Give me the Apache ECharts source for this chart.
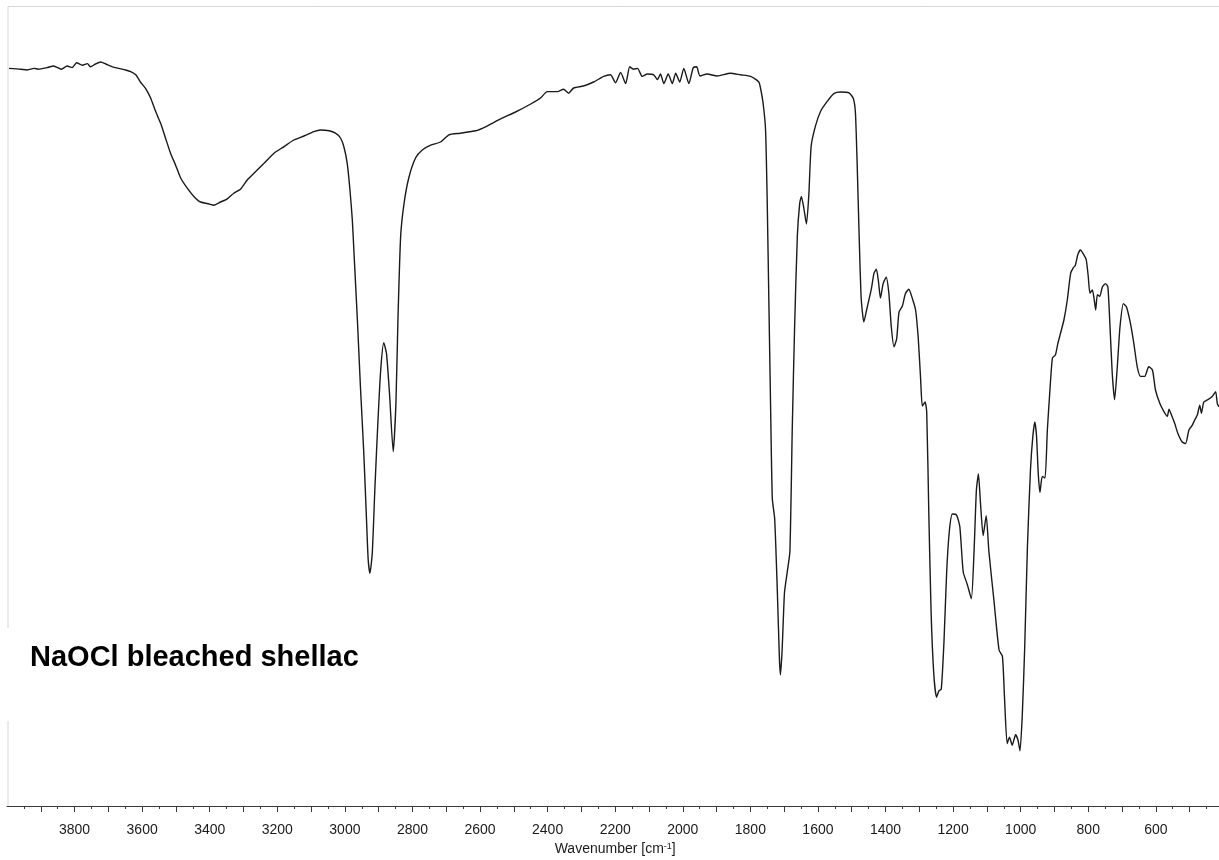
<!DOCTYPE html>
<html>
<head>
<meta charset="utf-8">
<title>NaOCl bleached shellac – FTIR</title>
<script src="https://cdn.jsdelivr.net/npm/echarts@6/dist/echarts.min.js"></script>
<style>
  html, body { margin: 0; padding: 0; background: #fff; overflow: hidden; }
  #chart { width: 1224px; height: 860px; }
</style>
</head>
<body>
<div id="chart"></div>
<script>
// Wavenumber positions (cm-1) of the sampled spectrum
const wavenumbers = [
  3994, 3960, 3940, 3920, 3907, 3881, 3862, 3839, 3822, 3807, 3794, 3777, 3762, 3753, 3738, 3723,
  3708, 3688, 3669, 3649, 3634, 3619, 3605, 3590, 3575, 3560, 3545, 3531, 3516, 3501, 3486, 3466,
  3447, 3427, 3402, 3388, 3368, 3348, 3329, 3309, 3289, 3264, 3240, 3210, 3181, 3151, 3121, 3092,
  3072, 3047, 3028, 3013, 3003, 2993, 2985, 2978, 2973, 2963, 2954, 2944, 2936, 2931, 2926, 2919,
  2911, 2902, 2894, 2885, 2877, 2868, 2857, 2849, 2843, 2835, 2825, 2811, 2791, 2771, 2746, 2717,
  2692, 2658, 2613, 2584, 2539, 2495, 2450, 2421, 2401, 2371, 2353, 2338, 2323, 2294, 2264, 2234,
  2214, 2199, 2184, 2169, 2157, 2146, 2134, 2120, 2105, 2086, 2075, 2066, 2056, 2043, 2031, 2021,
  2009, 1997, 1982, 1969, 1959, 1949, 1928, 1898, 1859, 1829, 1799, 1775, 1770, 1762, 1755, 1750,
  1745, 1740, 1735, 1728, 1720, 1714, 1711, 1706, 1699, 1691, 1683, 1676, 1669, 1661, 1654, 1649,
  1642, 1634, 1627, 1620, 1607, 1592, 1572, 1553, 1533, 1508, 1495, 1489, 1484, 1479, 1472, 1464,
  1456, 1449, 1442, 1434, 1427, 1421, 1415, 1407, 1398, 1390, 1383, 1375, 1367, 1360, 1350, 1341,
  1331, 1321, 1311, 1303, 1296, 1291, 1283, 1278, 1272, 1265, 1257, 1249, 1242, 1235, 1227, 1219,
  1211, 1202, 1190, 1180, 1170, 1158, 1146, 1138, 1131, 1125, 1119, 1111, 1102, 1094, 1079, 1064,
  1054, 1048, 1040, 1033, 1025, 1015, 1008, 1002, 995, 988, 980, 971, 964, 958, 953, 948,
  943, 936, 928, 921, 914, 906, 897, 890, 882, 872, 862, 852, 844, 838, 831, 823,
  813, 806, 800, 795, 788, 783, 778, 773, 766, 758, 749, 742, 736, 729, 722, 714,
  706, 696, 687, 675, 665, 655, 645, 633, 621, 610, 601, 588, 576, 566, 561, 554,
  544, 535, 522, 512, 502, 492, 485, 477, 470, 465, 458, 446, 433, 423, 418, 413
];

// Transmittance (%) at each wavenumber above
const transmittance = [
  92.2, 92.1, 92.0, 92.2, 92.1, 92.3, 92.5, 92.1, 92.5, 92.3, 92.9, 92.6, 92.8, 92.4, 92.75, 93.0,
  92.75, 92.4, 92.2, 92.0, 91.8, 91.4, 90.5, 89.7, 88.5, 86.8, 85.3, 83.5, 81.6, 80.1, 78.5, 77.2,
  76.2, 75.5, 75.25, 75.1, 75.5, 75.9, 76.6, 77.1, 78.25, 79.3, 80.3, 81.6, 82.4, 83.25, 83.75, 84.3,
  84.5, 84.4, 84.1, 83.5, 82.4, 80.3, 77.0, 73.25, 69.1, 60.75, 52.4, 44.1, 35.75, 30.75, 29.1, 31.6,
  39.9, 48.25, 54.5, 57.9, 56.6, 51.6, 44.3, 50.3, 60.75, 71.2, 75.3, 78.5, 81.0, 82.0, 82.6, 83.0,
  83.9, 84.1, 84.4, 84.9, 85.9, 86.75, 87.75, 88.5, 89.3, 89.3, 89.6, 89.1, 89.75, 90.0, 90.5, 91.2,
  91.4, 90.4, 91.7, 90.3, 92.4, 92.1, 92.2, 91.2, 91.5, 91.4, 90.8, 91.5, 90.3, 91.5, 90.3, 91.6,
  90.5, 92.2, 90.3, 92.3, 92.4, 91.25, 91.5, 91.25, 91.6, 91.4, 91.2, 90.5, 89.75, 87.75, 84.5, 75.3,
  62.5, 49.7, 38.4, 35.9, 26.65, 18.45, 16.4, 19.5, 26.65, 29.2, 31.8, 47.1, 59.95, 71.2, 75.3, 76.2,
  74.8, 72.75, 76.35, 82.5, 85.05, 86.85, 88.1, 89.05, 89.25, 89.15, 88.4, 86.6, 80.4, 72.75, 63.5, 60.5,
  62.0, 63.3, 64.6, 66.6, 67.1, 65.6, 63.5, 65.3, 66.1, 64.05, 59.95, 57.4, 58.4, 61.75, 62.5, 64.05,
  64.6, 63.5, 62.0, 58.4, 53.3, 50.0, 50.5, 49.2, 36.9, 24.1, 16.4, 13.6, 14.4, 14.6, 20.5, 29.25,
  34.4, 36.5, 36.4, 34.9, 29.25, 27.7, 25.9, 31.8, 39.5, 41.5, 37.9, 33.8, 36.3, 31.8, 25.65, 19.5,
  18.7, 13.7, 7.8, 8.6, 7.6, 8.9, 8.25, 6.9, 11.6, 19.9, 32.4, 42.0, 46.2, 48.0, 46.2, 41.6,
  39.2, 41.2, 41.0, 47.0, 51.6, 56.0, 56.4, 57.8, 59.1, 60.75, 63.25, 66.6, 67.3, 67.6, 68.9, 69.5,
  68.9, 68.3, 66.2, 64.1, 64.5, 63.5, 62.0, 63.9, 63.7, 64.9, 65.3, 64.9, 60.3, 54.1, 50.8, 54.9,
  59.9, 62.8, 62.4, 60.3, 57.8, 54.9, 53.7, 53.7, 54.9, 54.5, 52.0, 50.3, 49.3, 48.7, 49.6, 48.9,
  47.8, 46.6, 45.5, 45.3, 47.0, 47.6, 48.25, 48.9, 50.1, 49.1, 50.5, 50.8, 51.2, 51.8, 50.3, 49.9
];

// Axis ticks: long ticks every 100 cm-1, labels every 200 cm-1
const majorTicks = [500, 600, 700, 800, 900, 1000, 1100, 1200, 1300, 1400, 1500, 1600, 1700, 1800,
  1900, 2000, 2100, 2200, 2300, 2400, 2500, 2600, 2700, 2800, 2900, 3000, 3100, 3200, 3300, 3400,
  3500, 3600, 3700, 3800, 3900];
const tickLabels = [600, 800, 1000, 1200, 1400, 1600, 1800, 2000, 2200, 2400, 2600, 2800, 3000,
  3200, 3400, 3600, 3800];

const sampleName = 'NaOCl bleached shellac';

const spectrum = wavenumbers.map((w, i) => [w, transmittance[i]]);

const chart = echarts.init(document.getElementById('chart'), null, { renderer: 'canvas' });

// Plot area: the axis line sits a few pixels under the light frame of the trace area
const GRID = { left: 7, right: 0.6, top: 6, bottom: 48 };
const FRAME_GAP = 6;

chart.setOption({
  animation: false,
  backgroundColor: '#ffffff',
  grid: {
    left: GRID.left,
    right: GRID.right,
    top: GRID.top,
    bottom: GRID.bottom,
    containLabel: false,
    outerBoundsMode: 'none',
    show: false
  },
  xAxis: {
    type: 'value',
    inverse: true,
    min: 400,
    max: 4000,
    interval: 100,
    axisLine: { show: true, lineStyle: { color: '#3a3a3a', width: 1.2 } },
    axisTick: {
      show: true,
      length: 6,
      customValues: majorTicks,
      lineStyle: { color: '#3a3a3a', width: 1 }
    },
    minorTick: {
      show: true,
      splitNumber: 2,
      length: 3,
      lineStyle: { color: '#3a3a3a', width: 1 }
    },
    axisLabel: {
      customValues: tickLabels,
      formatter: (v) => String(v),
      margin: 11,
      fontFamily: 'Liberation Sans, Arial, sans-serif',
      fontSize: 14,
      color: '#1a1a1a'
    },
    splitLine: { show: false },
    name: 'Wavenumber [cm{sup|-1}]',
    nameLocation: 'middle',
    nameGap: 26,
    nameTextStyle: {
      fontFamily: 'Liberation Sans, Arial, sans-serif',
      fontSize: 14,
      color: '#1a1a1a',
      rich: {
        sup: {
          fontFamily: 'Liberation Sans, Arial, sans-serif',
          fontSize: 9,
          color: '#1a1a1a',
          verticalAlign: 'top',
          padding: [0, 0, 6, 0]
        }
      }
    }
  },
  yAxis: {
    type: 'value',
    min: -0.75,
    max: 100,
    show: false,
    splitLine: { show: false }
  },
  series: [{
    type: 'line',
    data: spectrum,
    showSymbol: false,
    smooth: 0.2,
    lineStyle: { color: '#1a1a1a', width: 1.4 },
    clip: true
  }],
  graphic: [
    {
      // light frame around the trace area
      type: 'rect',
      x: GRID.left + 1,
      y: GRID.top + 0.5,
      shape: { width: 1300, height: 860 - GRID.top - GRID.bottom - FRAME_GAP },
      style: { fill: 'none', stroke: '#d6d6d6', lineWidth: 1 },
      silent: true,
      z: 0
    },
    {
      type: 'rect',
      x: 0,
      y: 628,
      shape: { width: 380, height: 93 },
      style: { fill: '#ffffff' },
      z: 100
    },
    {
      type: 'text',
      x: 30,
      y: 658,
      style: {
        text: sampleName,
        fontFamily: 'Liberation Sans, Arial, sans-serif',
        fontWeight: 'bold',
        fontSize: 29,
        fill: '#000000',
        textVerticalAlign: 'middle'
      },
      z: 101
    }
  ]
});
</script>
</body>
</html>
